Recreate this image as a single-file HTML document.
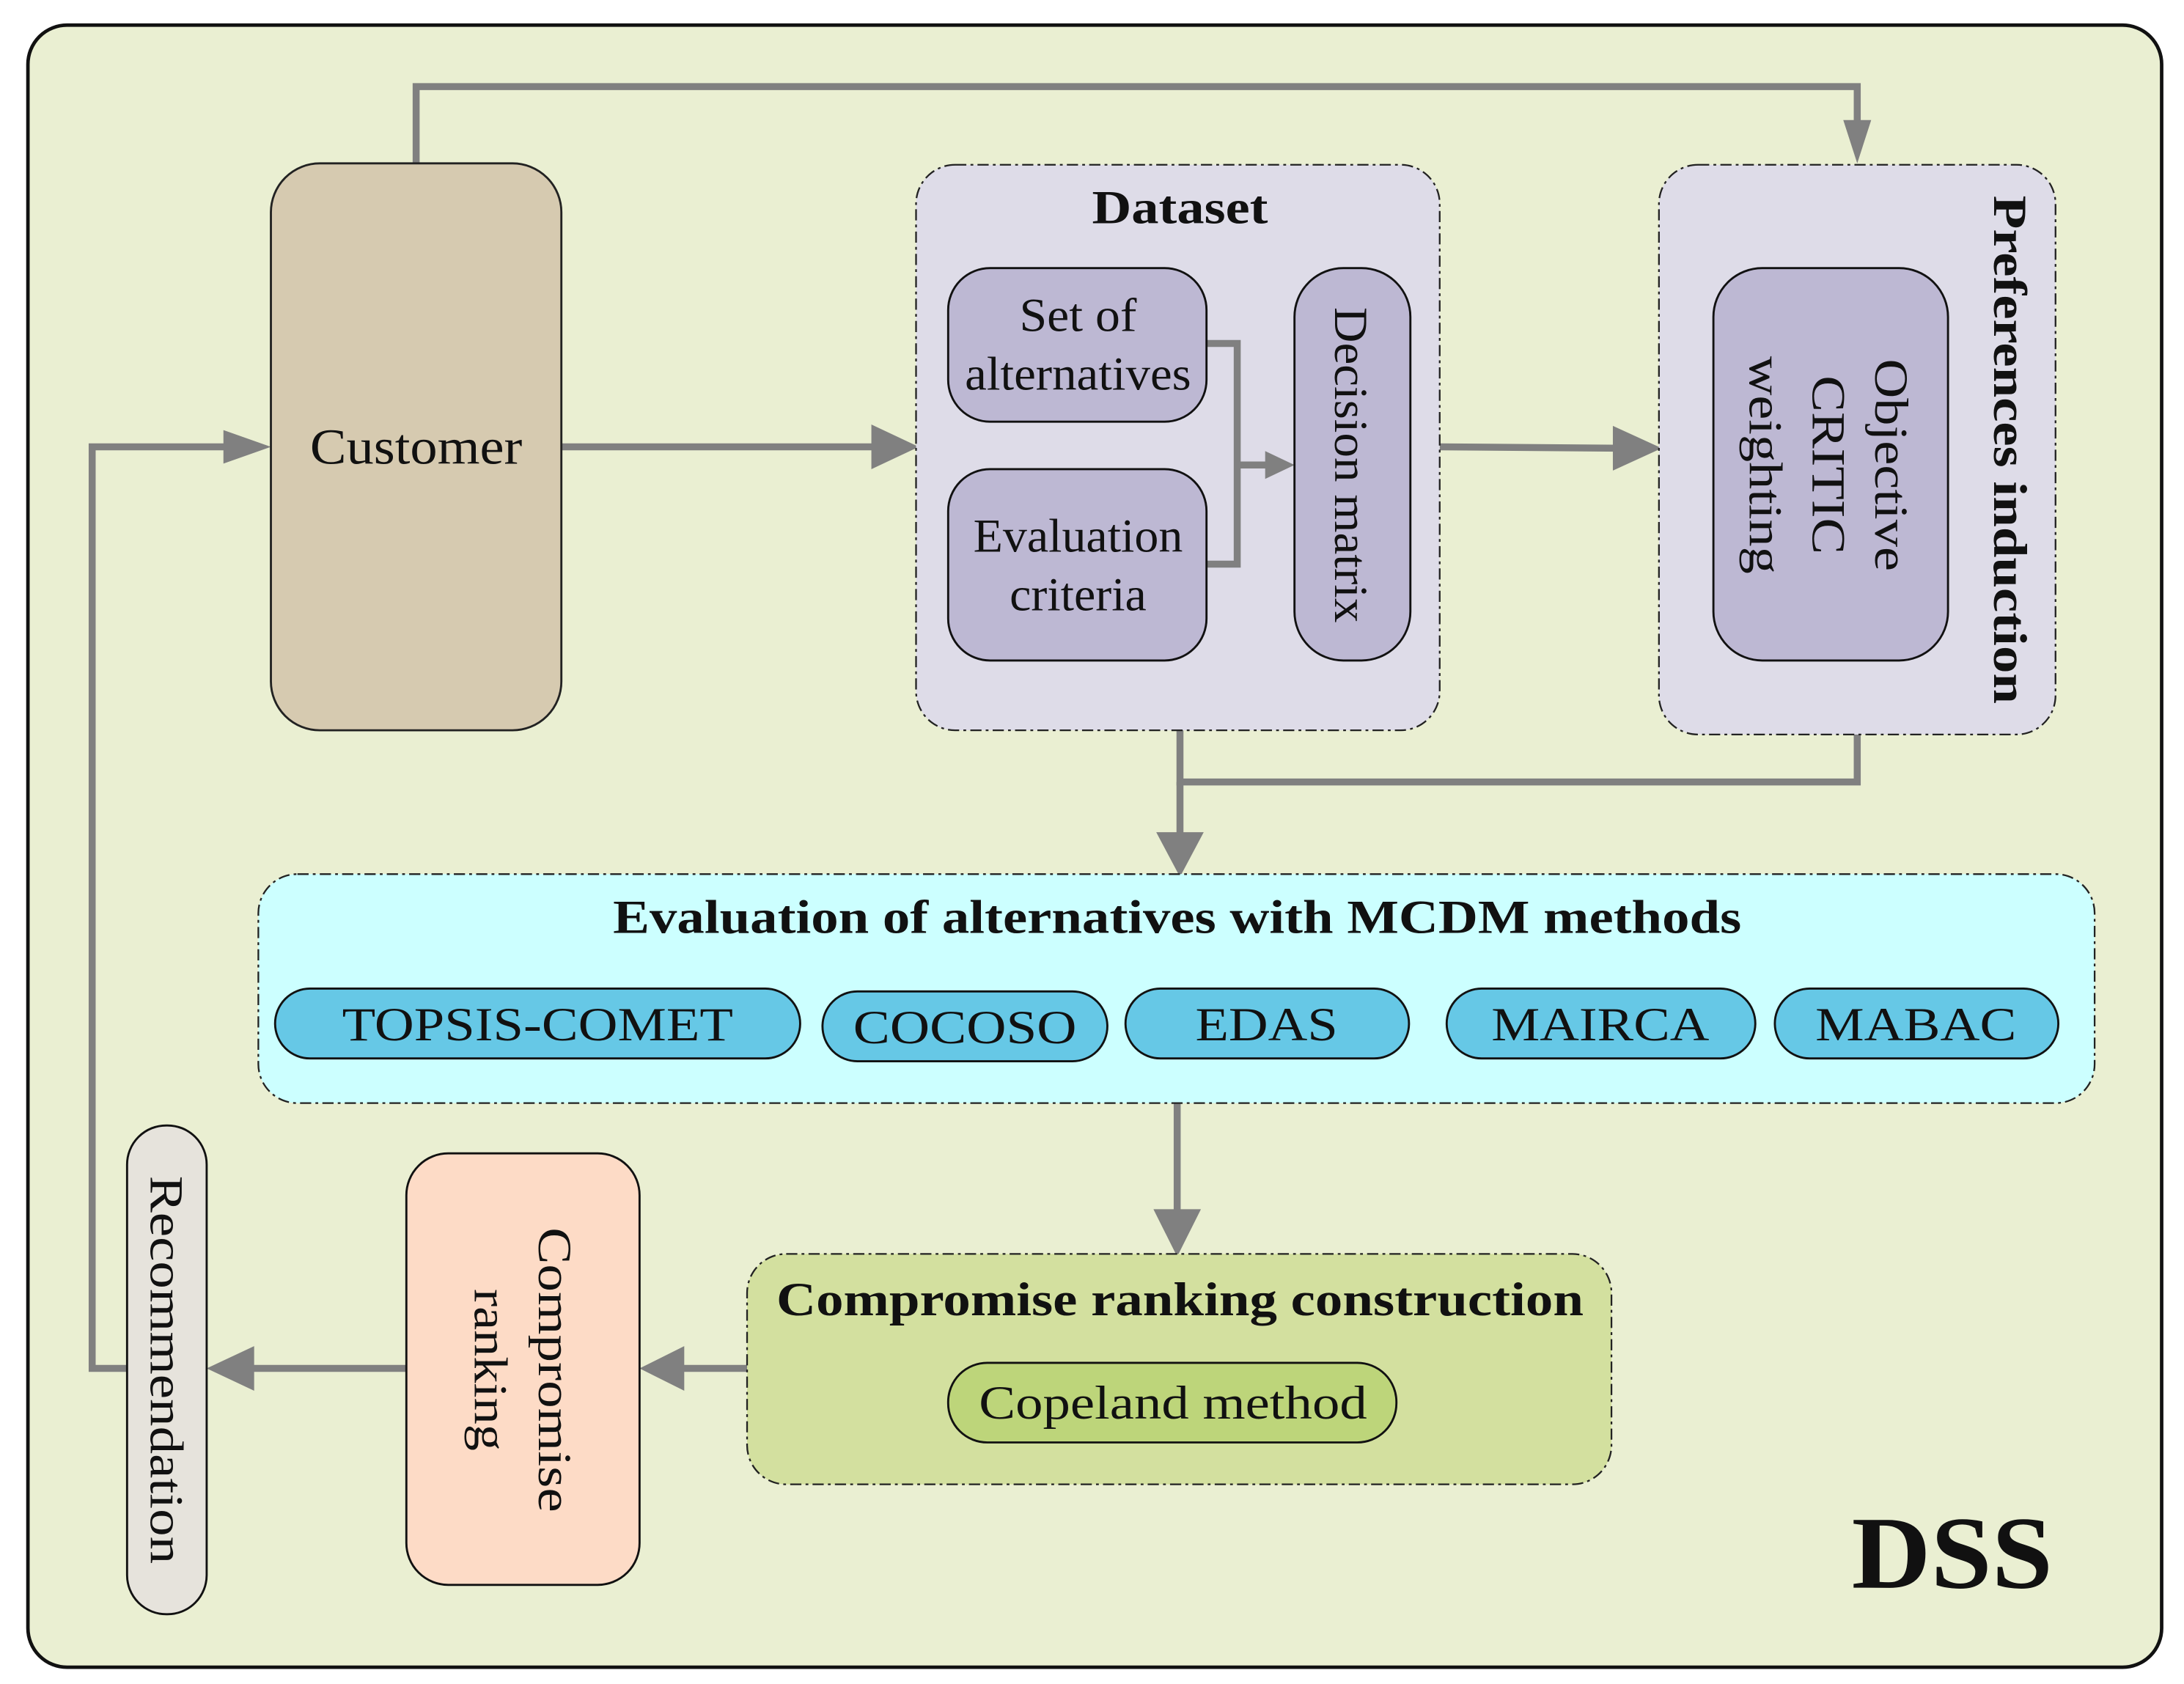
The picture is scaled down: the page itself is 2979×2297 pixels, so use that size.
<!DOCTYPE html>
<html><head><meta charset="utf-8"><style>html,body{margin:0;padding:0;background:#fff}svg{display:block}text{font-family:"Liberation Serif",serif;fill:#111}</style></head><body>
<svg width="2979" height="2297" viewBox="0 0 1564 1206" preserveAspectRatio="none" xmlns="http://www.w3.org/2000/svg">
<rect x="20" y="18" width="1528" height="1176" rx="28" fill="#eaefd2" stroke="#111" stroke-width="2.5"/>
<g fill="none" stroke="#808080" stroke-width="5">
<polyline points="298,117 298,62 1330,62 1330,100"/>
<line x1="402" y1="320" x2="630" y2="320"/>
<line x1="1031" y1="320" x2="1160" y2="321"/>
<polyline points="845,523 845,560 1330,560 1330,526"/>
<line x1="845" y1="560" x2="845" y2="600"/>
<line x1="843" y1="790" x2="843" y2="872"/>
<line x1="535" y1="980" x2="485" y2="980"/>
<line x1="291" y1="980" x2="176" y2="980"/>
<polyline points="91,980 66,980 66,320 168,320"/>
</g>
<g fill="#808080">
<polygon points="1320,86 1340,86 1330,117"/>
<polygon points="624,304 624,336 658,320"/>
<polygon points="1155,305 1155,337 1190,321"/>
<polygon points="828,596 862,596 845,628"/>
<polygon points="826,866 860,866 843,900"/>
<polygon points="490,964 490,996 458,980"/>
<polygon points="182,964 182,996 148,980"/>
<polygon points="160,308 160,332 194,320"/>
</g>
<rect x="194" y="117" width="208" height="406" rx="35" fill="#d6cab0" stroke="#222" stroke-width="1.5"/>
<text x="298" y="332" font-size="36" text-anchor="middle" textLength="152" lengthAdjust="spacingAndGlyphs">Customer</text>
<rect x="656" y="118" width="375" height="405" rx="28" fill="#dedce8" stroke="#222" stroke-width="1.2" stroke-dasharray="8,3,2,3"/>
<text x="845" y="160" font-size="34" font-weight="bold" text-anchor="middle" textLength="126" lengthAdjust="spacingAndGlyphs">Dataset</text>
<g fill="none" stroke="#808080" stroke-width="5">
<polyline points="864,246 886,246 886,404 864,404"/>
<line x1="886" y1="333" x2="910" y2="333"/>
</g>
<polygon points="906,323 906,343 927,333" fill="#808080"/>
<rect x="679" y="192" width="185" height="110" rx="30" fill="#bdb8d3" stroke="#111" stroke-width="1.5"/>
<text x="772" y="237" font-size="34" text-anchor="middle" textLength="84" lengthAdjust="spacingAndGlyphs">Set of</text>
<text x="772" y="279" font-size="34" text-anchor="middle" textLength="162" lengthAdjust="spacingAndGlyphs">alternatives</text>
<rect x="679" y="336" width="185" height="137" rx="30" fill="#bdb8d3" stroke="#111" stroke-width="1.5"/>
<text x="772" y="395" font-size="34" text-anchor="middle" textLength="150" lengthAdjust="spacingAndGlyphs">Evaluation</text>
<text x="772" y="437" font-size="34" text-anchor="middle" textLength="98" lengthAdjust="spacingAndGlyphs">criteria</text>
<rect x="927" y="192" width="83" height="281" rx="35" fill="#bdb8d3" stroke="#111" stroke-width="1.5"/>
<text transform="translate(956,333) rotate(90)" font-size="34" text-anchor="middle" textLength="226" lengthAdjust="spacingAndGlyphs">Decision matrix</text>
<rect x="1188" y="118" width="284" height="408" rx="28" fill="#dedce8" stroke="#222" stroke-width="1.2" stroke-dasharray="8,3,2,3"/>
<text transform="translate(1428,322) rotate(90)" font-size="34" font-weight="bold" text-anchor="middle" textLength="364" lengthAdjust="spacingAndGlyphs">Preferences induction</text>
<rect x="1227" y="192" width="168" height="281" rx="35" fill="#bdb8d3" stroke="#111" stroke-width="1.5"/>
<text transform="translate(1343,333) rotate(90)" font-size="34" text-anchor="middle" textLength="152" lengthAdjust="spacingAndGlyphs">Objective</text>
<text transform="translate(1298,333) rotate(90)" font-size="34" text-anchor="middle" textLength="128" lengthAdjust="spacingAndGlyphs">CRITIC</text>
<text transform="translate(1253,333) rotate(90)" font-size="34" text-anchor="middle" textLength="156" lengthAdjust="spacingAndGlyphs">weighting</text>
<rect x="185" y="626" width="1315" height="164" rx="28" fill="#ccffff" stroke="#222" stroke-width="1.2" stroke-dasharray="8,3,2,3"/>
<text x="843" y="668" font-size="34" font-weight="bold" text-anchor="middle" textLength="808" lengthAdjust="spacingAndGlyphs">Evaluation of alternatives with MCDM methods</text>
<g fill="#66c8e6" stroke="#111" stroke-width="1.5">
<rect x="197" y="708" width="376" height="50" rx="25"/>
<rect x="589" y="710" width="204" height="50" rx="25"/>
<rect x="806" y="708" width="203" height="50" rx="25"/>
<rect x="1036" y="708" width="221" height="50" rx="25"/>
<rect x="1271" y="708" width="203" height="50" rx="25"/>
</g>
<text x="385" y="745" font-size="34" text-anchor="middle" textLength="280" lengthAdjust="spacingAndGlyphs">TOPSIS-COMET</text>
<text x="691" y="747" font-size="34" text-anchor="middle" textLength="160" lengthAdjust="spacingAndGlyphs">COCOSO</text>
<text x="907" y="745" font-size="34" text-anchor="middle" textLength="102" lengthAdjust="spacingAndGlyphs">EDAS</text>
<text x="1146" y="745" font-size="34" text-anchor="middle" textLength="156" lengthAdjust="spacingAndGlyphs">MAIRCA</text>
<text x="1372" y="745" font-size="34" text-anchor="middle" textLength="144" lengthAdjust="spacingAndGlyphs">MABAC</text>
<rect x="535" y="898" width="619" height="165" rx="28" fill="#d3e09f" stroke="#222" stroke-width="1.2" stroke-dasharray="8,3,2,3"/>
<text x="845" y="942" font-size="34" font-weight="bold" text-anchor="middle" textLength="578" lengthAdjust="spacingAndGlyphs">Compromise ranking construction</text>
<rect x="679" y="976" width="321" height="57" rx="28" fill="#bdd57a" stroke="#111" stroke-width="1.5"/>
<text x="840" y="1016" font-size="34" text-anchor="middle" textLength="278" lengthAdjust="spacingAndGlyphs">Copeland method</text>
<rect x="291" y="826" width="167" height="309" rx="30" fill="#fddbc6" stroke="#111" stroke-width="1.5"/>
<text transform="translate(386,981) rotate(90)" font-size="34" text-anchor="middle" textLength="204" lengthAdjust="spacingAndGlyphs">Compromise</text>
<text transform="translate(340,981) rotate(90)" font-size="34" text-anchor="middle" textLength="116" lengthAdjust="spacingAndGlyphs">ranking</text>
<rect x="91" y="806" width="57" height="350" rx="28" fill="#e6e3dc" stroke="#111" stroke-width="1.5"/>
<text transform="translate(108,981) rotate(90)" font-size="34" text-anchor="middle" textLength="278" lengthAdjust="spacingAndGlyphs">Recommendation</text>
<text x="1398" y="1137" font-size="74" font-weight="bold" text-anchor="middle" textLength="144" lengthAdjust="spacingAndGlyphs">DSS</text>
</svg>
</body></html>
